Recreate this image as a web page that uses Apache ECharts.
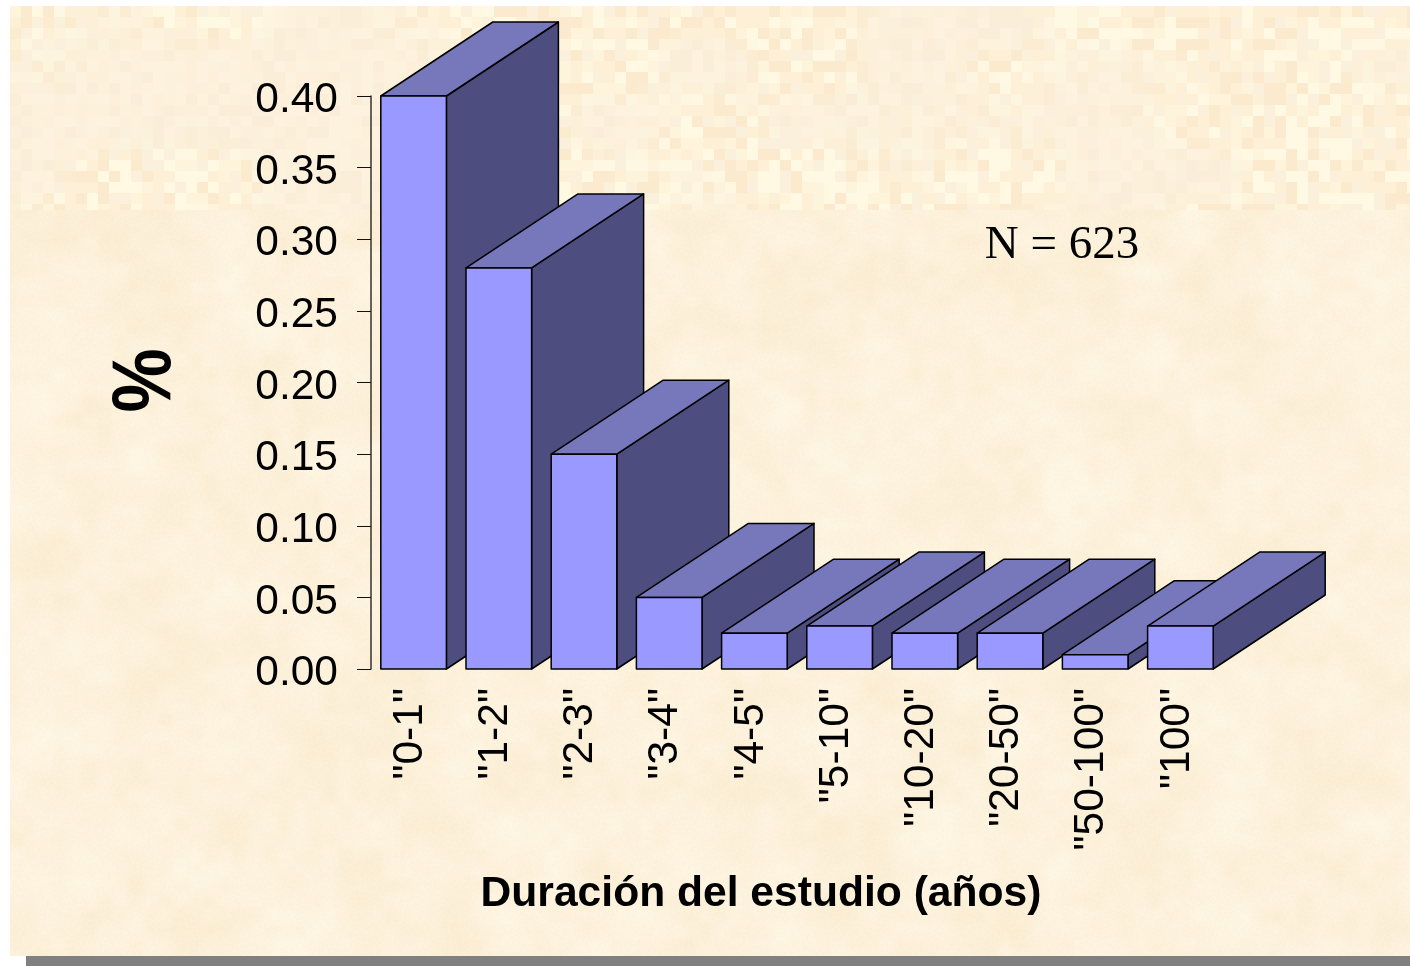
<!DOCTYPE html>
<html>
<head>
<meta charset="utf-8">
<style>html,body{margin:0;padding:0;background:#fff}#c{width:1410px;height:966px}</style>
<script src="https://cdn.jsdelivr.net/npm/echarts@6/dist/echarts.min.js"></script>
</head>
<body>
<div id="c"></div>
<script>
const categories = ['"0-1"','"1-2"','"2-3"','"3-4"','"4-5"','"5-10"','"10-20"','"20-50"','"50-100"','"100"'];
const values = [0.40,0.28,0.15,0.05,0.025,0.03,0.025,0.025,0.01,0.03];
const yTicks = {min:0,max:0.40,interval:0.05};
const xTitle = 'Duración del estudio (años)';
const yTitle = '%';
const note = 'N = 623';

function hash(x,y){let h=(x*374761393+y*668265263)|0;h=Math.imul(h^(h>>>13),1274126177);h^=h>>>16;return (h>>>0)/4294967296;}
function vnoise(x,y){const xi=Math.floor(x),yi=Math.floor(y),fx=x-xi,fy=y-yi;
  const s=t=>t*t*(3-2*t),a=hash(xi,yi),b=hash(xi+1,yi),c=hash(xi,yi+1),d=hash(xi+1,yi+1);
  return (a+(b-a)*s(fx))*(1-s(fy))+(c+(d-c)*s(fx))*s(fy);}
function makeTexture(){
  const cv=document.createElement('canvas');cv.width=1410;cv.height=966;
  const g=cv.getContext('2d');g.fillStyle='#fff';g.fillRect(0,0,1410,966);
  const img=g.getImageData(0,0,1410,966),d=img.data;
  const put=(x,y,r,gg,b)=>{const i=(y*1410+x)*4;d[i]=r;d[i+1]=gg;d[i+2]=b;d[i+3]=255;};
  for(let y=956-1;y>=210;y--)for(let x=10;x<1410;x++){
    const lo=vnoise(x/46,y/46)-0.5, lo2=vnoise(x/15+40,y/15)-0.5, hi=hash(x>>1,y>>1)-0.5;
    const k=lo*6+lo2*4+hi*2.5;
    put(x,y,Math.min(255,252+k*0.4),Math.min(255,241+k),Math.min(255,219+k*2));
  }
  const pal=[[255,248,226],[253,240,214],[251,234,205],[250,240,220],[254,244,220],[251,238,214]];
  for(let y=6;y<210;y++)for(let x=10;x<1410;x++){
    const cx=Math.floor((x-10)/11),cy=Math.floor((y-6)/11);
    const h=hash(cx+7,cy+91);
    const smooth=vnoise(cx/9,cy/5+3);
    let c;
    if(h<0.3)c=pal[0];else if(h<0.52)c=pal[2];else if(h<0.74)c=pal[1];else if(h<0.88)c=pal[4];else c=pal[3];
    const m=Math.max(0.25,Math.min(1,(smooth-0.15)*2.6));
    const base=[251,240,219];
    put(x,y,base[0]+(c[0]-base[0])*m,base[1]+(c[1]-base[1])*m,base[2]+(c[2]-base[2])*m);
  }
  g.putImageData(img,0,0);return cv;
}

const FRONT='#9999FF',TOP='#7777BB',SIDE='#4D4D80',EDGE='#000000';
const DEPTH_X=112,DEPTH_Y=-74;
function renderBar(params,api){
  const idx=api.value(0),val=api.value(1);
  const top=api.coord([idx,val]),base=api.coord([idx,0]);
  const w=api.size([1,0])[0]*0.77;
  const l=top[0]-w/2,r=top[0]+w/2,t=top[1],b=base[1];
  const st=f=>({fill:f,stroke:EDGE,lineWidth:1.5,lineJoin:'round'});
  return {type:'group',children:[
    {type:'polygon',shape:{points:[[r,t],[r+DEPTH_X,t+DEPTH_Y],[r+DEPTH_X,b+DEPTH_Y],[r,b]]},style:st(SIDE)},
    {type:'polygon',shape:{points:[[l,t],[l+DEPTH_X,t+DEPTH_Y],[r+DEPTH_X,t+DEPTH_Y],[r,t]]},style:st(TOP)},
    {type:'polygon',shape:{points:[[l,t],[r,t],[r,b],[l,b]]},style:st(FRONT)}
  ]};
}

const chart=echarts.init(document.getElementById('c'),null,{renderer:'canvas',width:1410,height:966});
chart.setOption({
  animation:false,
  backgroundColor:{image:makeTexture(),repeat:'no-repeat'},
  textStyle:{fontFamily:'"Liberation Sans",Arial,sans-serif',color:'#000'},
  grid:{left:371,top:96,right:187,bottom:297,containLabel:false},
  xAxis:{type:'category',data:categories,
    axisLine:{show:false},axisTick:{show:false},
    axisLabel:{interval:0,rotate:90,margin:19,color:'#000',hideOverlap:false,
      formatter:v=>'{a|'+v+'}',rich:{a:{fontSize:42.5,color:'#000',fontFamily:'"Liberation Sans",Arial,sans-serif',padding:[0,0,7,0]}}},
    name:xTitle,nameLocation:'center',nameGap:204,
    nameTextStyle:{fontSize:42.6,fontWeight:'bold',color:'#000',padding:[0,72,0,0]}},
  yAxis:{type:'value',min:yTicks.min,max:yTicks.max,interval:yTicks.interval,
    splitLine:{show:false},
    axisLine:{show:true,lineStyle:{color:'#333',width:1.5}},
    axisTick:{show:true,length:14,lineStyle:{color:'#111',width:1}},
    axisLabel:{margin:33,color:'#000',hideOverlap:false,showMinLabel:true,showMaxLabel:true,
      formatter:v=>'{a|'+v.toFixed(2)+'}',rich:{a:{fontSize:42.5,color:'#000',fontFamily:'"Liberation Sans",Arial,sans-serif',padding:[9,0,0,0]}}}},
  graphic:[
    {type:'rect',silent:true,shape:{x:26,y:956,width:1384,height:10},style:{fill:'#808080'}},
    {type:'text',silent:true,x:147,y:380.5,rotation:Math.PI/2,scaleX:0.9,scaleY:1.05,style:{x:0,y:0,text:yTitle,align:'center',verticalAlign:'middle',fontFamily:'"Liberation Sans",Arial,sans-serif',fontWeight:'bold',fontSize:80,fill:'#000'}},
    {type:'text',silent:true,style:{x:1062,y:246,text:note,align:'center',verticalAlign:'middle',fontFamily:'"Liberation Serif","Times New Roman",serif',fontSize:47,fill:'#000'}}
  ],
  series:[{type:'custom',renderItem:renderBar,encode:{x:0,y:1},clip:false,silent:true,
    data:values.map((v,i)=>[i,v])}]
});
</script>
</body>
</html>
